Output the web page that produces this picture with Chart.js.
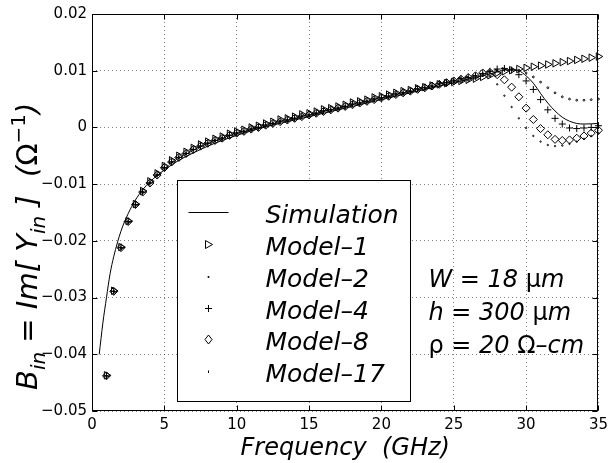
<!DOCTYPE html>
<html>
<head>
<meta charset="UTF-8">
<title>B_in vs frequency</title>
<script src="https://cdn.jsdelivr.net/npm/chart.js"></script>
<style>
  body { margin: 0; background: #fff; }
  #wrap { position: relative; width: 613px; height: 463px; }
</style>
</head>
<body>
<div id="wrap"><canvas id="chart"></canvas></div>
<script>
// model sample frequencies (GHz)
const freq = [1, 1.5, 2, 2.5, 3, 3.5, 4, 4.5, 5, 5.5, 6, 6.5, 7, 7.5, 8, 8.5, 9, 9.5, 10, 10.5,
  11, 11.5, 12, 12.5, 13, 13.5, 14, 14.5, 15, 15.5, 16, 16.5, 17, 17.5, 18, 18.5, 19, 19.5, 20, 20.5,
  21, 21.5, 22, 22.5, 23, 23.5, 24, 24.5, 25, 25.5, 26, 26.5, 27, 27.5, 28, 28.5, 29, 29.5, 30, 30.5,
  31, 31.5, 32, 32.5, 33, 33.5, 34, 34.5, 35];

const model1 = [-0.0437, -0.0288, -0.0211, -0.0165, -0.0135, -0.0112, -0.0095, -0.0081, -0.0068, -0.0058,
  -0.0050, -0.0043, -0.0036, -0.0030, -0.0025, -0.0020, -0.0016, -0.0011, -0.0007, -0.0004,
  0.0000, 0.0003, 0.0007, 0.0010, 0.0014, 0.0016, 0.0019, 0.0023, 0.0025, 0.0028,
  0.0032, 0.0034, 0.0037, 0.0040, 0.0044, 0.0046, 0.0049, 0.0053, 0.0055, 0.0058,
  0.0061, 0.0064, 0.0066, 0.0069, 0.0071, 0.0074, 0.0076, 0.0078, 0.0080, 0.0082,
  0.0084, 0.0086, 0.0089, 0.0092, 0.0096, 0.0099, 0.0101, 0.0103, 0.0105, 0.0107,
  0.0109, 0.0111, 0.0113, 0.0115, 0.0117, 0.0119, 0.0121, 0.0123, 0.0125];

const model2 = [-0.0438, -0.0289, -0.0212, -0.0166, -0.0136, -0.0114, -0.0098, -0.0084, -0.0071, -0.0061,
  -0.0053, -0.0046, -0.0039, -0.0033, -0.0028, -0.0023, -0.0019, -0.0014, -0.0010, -0.0007,
  -0.0003, 0.0000, 0.0004, 0.0007, 0.0011, 0.0013, 0.0016, 0.0020, 0.0022, 0.0025,
  0.0029, 0.0031, 0.0034, 0.0037, 0.0041, 0.0043, 0.0046, 0.0050, 0.0052, 0.0055,
  0.0059, 0.0061, 0.0064, 0.0068, 0.0070, 0.0073, 0.0077, 0.0079, 0.0082, 0.0086,
  0.0088, 0.0091, 0.0095, 0.0099, 0.0101, 0.0103, 0.0103, 0.0101, 0.0096, 0.0089,
  0.0080, 0.0070, 0.0061, 0.0054, 0.0050, 0.0048, 0.0048, 0.0049, 0.0050];

const model4 = [-0.0438, -0.0289, -0.0212, -0.0166, -0.0136, -0.0114, -0.0098, -0.0084, -0.0071, -0.0061,
  -0.0053, -0.0046, -0.0039, -0.0033, -0.0028, -0.0023, -0.0019, -0.0014, -0.0010, -0.0007,
  -0.0003, 0.0000, 0.0004, 0.0007, 0.0011, 0.0013, 0.0016, 0.0020, 0.0022, 0.0025,
  0.0029, 0.0031, 0.0034, 0.0037, 0.0041, 0.0043, 0.0046, 0.0050, 0.0052, 0.0055,
  0.0059, 0.0061, 0.0064, 0.0068, 0.0070, 0.0073, 0.0077, 0.0079, 0.0082, 0.0086,
  0.0088, 0.0091, 0.0095, 0.0099, 0.0103, 0.0104, 0.0101, 0.0093, 0.0082, 0.0067,
  0.0049, 0.0031, 0.0016, 0.0006, -0.0001, -0.0002, -0.0001, 0.0000, 0.0003];

const model8 = [-0.0438, -0.0289, -0.0212, -0.0166, -0.0136, -0.0114, -0.0098, -0.0084, -0.0071, -0.0061,
  -0.0053, -0.0046, -0.0039, -0.0033, -0.0028, -0.0023, -0.0019, -0.0014, -0.0010, -0.0007,
  -0.0003, 0.0000, 0.0004, 0.0007, 0.0010, 0.0013, 0.0016, 0.0019, 0.0022, 0.0025,
  0.0028, 0.0031, 0.0034, 0.0037, 0.0040, 0.0043, 0.0046, 0.0049, 0.0052, 0.0055,
  0.0058, 0.0061, 0.0064, 0.0067, 0.0070, 0.0073, 0.0076, 0.0079, 0.0082, 0.0085,
  0.0088, 0.0091, 0.0096, 0.0097, 0.0093, 0.0084, 0.0071, 0.0054, 0.0034, 0.0014,
  -0.0002, -0.0013, -0.0021, -0.0023, -0.0022, -0.0019, -0.0015, -0.0010, -0.0005];

const model17 = [-0.0438, -0.0289, -0.0212, -0.0166, -0.0136, -0.0114, -0.0098, -0.0084, -0.0071, -0.0061,
  -0.0053, -0.0046, -0.0039, -0.0033, -0.0028, -0.0023, -0.0019, -0.0014, -0.0010, -0.0007,
  -0.0003, 0.0000, 0.0004, 0.0007, 0.0010, 0.0013, 0.0016, 0.0019, 0.0022, 0.0025,
  0.0028, 0.0031, 0.0034, 0.0037, 0.0040, 0.0043, 0.0046, 0.0049, 0.0052, 0.0055,
  0.0058, 0.0061, 0.0064, 0.0067, 0.0070, 0.0073, 0.0076, 0.0079, 0.0082, 0.0085,
  0.0088, 0.0091, 0.0094, 0.0090, 0.0076, 0.0056, 0.0036, 0.0016, -0.0001, -0.0015,
  -0.0025, -0.0031, -0.0033, -0.0032, -0.0029, -0.0025, -0.0020, -0.0015, -0.0010];

// full-wave simulation (solid line)
const simFreq = [0.5, 0.75, 1, 1.25, 1.5, 2, 2.5, 3, 3.5, 4, 5, 6, 7, 8, 9, 10, 12, 14, 16, 18, 20, 22, 24, 26,
  27, 28, 28.5, 29, 29.5, 30, 30.5, 31, 31.5, 32, 32.5, 33, 33.5, 34, 35];
const simB = [-0.0400, -0.0345, -0.0300, -0.0258, -0.0228, -0.0183, -0.0152, -0.0128, -0.0110, -0.0096,
  -0.0075, -0.0058, -0.0045, -0.0033, -0.0023, -0.0014, 0.0001, 0.0013, 0.0025, 0.0037, 0.0049, 0.0061,
  0.0073, 0.0085, 0.0091, 0.0098, 0.0101, 0.0102, 0.0100, 0.0091, 0.0078, 0.0060, 0.0043, 0.0029,
  0.0018, 0.0011, 0.0007, 0.0006, 0.0007];

const legendLabels = ['Simulation', 'Model\u20131', 'Model\u20132', 'Model\u20134', 'Model\u20138', 'Model\u201317'];

const pts = ys => freq.map((f, i) => ({ x: f, y: ys[i] }));

function markers(label, ys, style, radius, rotation) {
  return {
    label, data: pts(ys), showLine: false, clip: false,
    pointStyle: style, pointRadius: radius, pointRotation: rotation || 0,
    borderColor: '#000', backgroundColor: 'rgba(0,0,0,0)', pointBorderWidth: 1
  };
}

const FONT = '"DejaVu Sans", sans-serif';

// draws text pieces one after another; each piece: [text, font, baselineShift]
function drawRuns(ctx, runs, x, y) {
  for (const [t, f, dy] of runs) {
    ctx.font = f;
    ctx.fillText(t, x, y + (dy || 0));
    x += ctx.measureText(t).width;
  }
}

const paper = {
  id: 'paper',
  afterDraw(chart) {
    const { ctx, chartArea: a, scales: { x, y } } = chart;
    ctx.save();
    ctx.fillStyle = '#000';
    ctx.strokeStyle = '#000';
    ctx.lineWidth = 1;
    ctx.textBaseline = 'alphabetic';

    // legend box
    const L = Math.round(x.getPixelForValue(5.85)) + 0.5, R = Math.round(x.getPixelForValue(21.95)) + 0.5;
    const T = Math.round(y.getPixelForValue(-0.0093)) + 0.5, B = Math.round(y.getPixelForValue(-0.0482)) + 0.5;
    ctx.fillStyle = '#fff';
    ctx.fillRect(L, T, R - L, B - T);
    ctx.strokeRect(L, T, R - L, B - T);
    ctx.fillStyle = '#000';
    const rowY = [32, 64, 96.5, 128, 159, 191];
    const sx = L + 31;
    legendLabels.forEach((lab, i) => {
      const cy = T + rowY[i];
      ctx.beginPath();
      if (i === 0) { ctx.moveTo(sx - 20, cy); ctx.lineTo(sx + 20, cy); ctx.stroke(); }
      if (i === 1) { ctx.moveTo(sx - 3, cy - 4); ctx.lineTo(sx + 4, cy); ctx.lineTo(sx - 3, cy + 4); ctx.closePath(); ctx.stroke(); }
      if (i === 2) { ctx.arc(sx, cy, 1, 0, Math.PI * 2); ctx.fill(); }
      if (i === 3) { ctx.moveTo(sx - 3.5, cy); ctx.lineTo(sx + 3.5, cy); ctx.moveTo(sx, cy - 3.5); ctx.lineTo(sx, cy + 3.5); ctx.stroke(); }
      if (i === 4) { ctx.moveTo(sx, cy - 4.5); ctx.lineTo(sx + 3.5, cy); ctx.lineTo(sx, cy + 4.5); ctx.lineTo(sx - 3.5, cy); ctx.closePath(); ctx.stroke(); }
      if (i === 5) { ctx.moveTo(sx, cy - 1); ctx.lineTo(sx, cy + 1.5); ctx.stroke(); }
      ctx.font = 'italic 25px ' + FONT;
      ctx.fillText(lab, L + 88, cy + 10);
    });

    // parameter notes
    const it = 'italic 24px ' + FONT, up = '24px ' + FONT;
    const nx = x.getPixelForValue(23.25);
    drawRuns(ctx, [['W = 18 ', it], ['\u03bc', up], ['m', it]], nx, y.getPixelForValue(-0.0281));
    drawRuns(ctx, [['h = 300 ', it], ['\u03bc', up], ['m', it]], nx, y.getPixelForValue(-0.0340));
    drawRuns(ctx, [['\u03c1', up], [' = 20 ', it], ['\u03a9', up], ['\u2013cm', it]], nx, y.getPixelForValue(-0.0398));

    // frame with inward ticks
    const l = Math.round(a.left) + 0.5, r = Math.round(a.right) - 0.5;
    const t = Math.round(a.top) + 0.5, b = Math.round(a.bottom) - 0.5;
    ctx.strokeRect(l, t, r - l, b - t);
    ctx.beginPath();
    x.ticks.forEach(tk => {
      const px = Math.round(x.getPixelForValue(tk.value)) + 0.5;
      ctx.moveTo(px, b); ctx.lineTo(px, b - 5);
      ctx.moveTo(px, t); ctx.lineTo(px, t + 5);
    });
    y.ticks.forEach(tk => {
      const py = Math.round(y.getPixelForValue(tk.value)) + 0.5;
      ctx.moveTo(l, py); ctx.lineTo(l + 5, py);
      ctx.moveTo(r, py); ctx.lineTo(r - 5, py);
    });
    ctx.stroke();

    // y axis title with sub/superscripts
    ctx.translate(37, 390);
    ctx.rotate(-Math.PI / 2);
    const ti = 'italic 29px ' + FONT, ts = 'italic 20px ' + FONT, tu = '29px ' + FONT, tus = '20px ' + FONT;
    drawRuns(ctx, [['B', ti], ['in', ts, 8], [' = Im[ Y', ti], ['in', ts, 8], [' ]  (', ti], ['\u03a9', tu],
      ['\u22121', tus, -12], [')', ti]], 0, 0);
    ctx.restore();
  }
};

new Chart(document.getElementById('chart'), {
  type: 'scatter',
  data: {
    datasets: [
      {
        label: legendLabels[0], data: simFreq.map((f, i) => ({ x: f, y: simB[i] })),
        showLine: true, borderColor: '#000', borderWidth: 1, pointRadius: 0,
        cubicInterpolationMode: 'monotone'
      },
      markers(legendLabels[1], model1, 'triangle', 4.3, 90),
      markers(legendLabels[2], model2, 'circle', 0.9),
      markers(legendLabels[3], model4, 'cross', 3.5),
      markers(legendLabels[4], model8, 'rectRot', 4),
      markers(legendLabels[5], model17, 'circle', 0.7)
    ]
  },
  options: {
    responsive: true,
    maintainAspectRatio: false,
    animation: false,
    events: [],
    layout: { padding: { left: 0, right: 12, top: 12, bottom: 0 } },
    plugins: { legend: { display: false }, tooltip: { enabled: false } },
    scales: {
      x: {
        type: 'linear', min: 0, max: 35,
        afterFit: s => { s.height = 52; },
        ticks: { stepSize: 5, color: '#000', font: { family: FONT, size: 15 }, padding: 5 },
        grid: { color: 'rgba(0,0,0,0.5)', drawTicks: false },
        border: { display: false, dash: [1, 3] },
        title: {
          display: true, text: 'Frequency  (GHz)', color: '#000',
          font: { family: FONT, size: 24, style: 'italic' }, padding: { top: 0, bottom: 0 }
        }
      },
      y: {
        type: 'linear', min: -0.05, max: 0.02,
        afterFit: s => { s.width = 92; },
        ticks: {
          stepSize: 0.01, color: '#000', font: { family: FONT, size: 15 }, padding: 5,
          callback: v => Math.abs(v) < 1e-9 ? '0' : (v < 0 ? '\u2212' : '') + Math.abs(v).toFixed(2)
        },
        grid: { color: 'rgba(0,0,0,0.5)', drawTicks: false },
        border: { display: false, dash: [1, 3] }
      }
    }
  },
  plugins: [paper]
});
</script>
</body>
</html>
